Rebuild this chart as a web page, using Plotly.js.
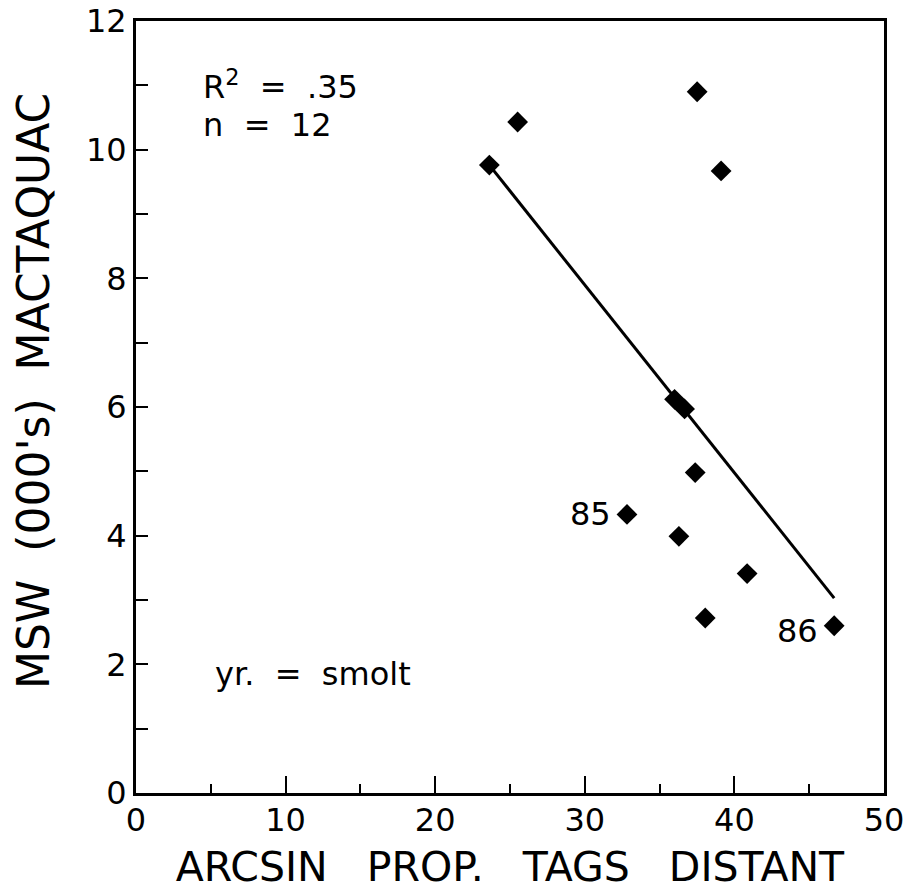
<!DOCTYPE html>
<html>
<head>
<meta charset="utf-8">
<script src="https://cdn.plot.ly/plotly-3.0.1.min.js"></script>
<style>html,body{margin:0;padding:0;background:#fff;}#chart{width:908px;height:894px;}</style>
</head>
<body>
<div id="chart"></div>
<script>
// Data
const arcsinProp = [23.62, 25.51, 37.51, 39.11, 36.00, 36.67, 37.38, 32.82, 36.29, 40.85, 38.05, 46.67];
const mswMactaquac = [9.76, 10.43, 10.90, 9.67, 6.12, 5.97, 4.98, 4.33, 3.99, 3.41, 2.72, 2.60];
const pointLabels = ["", "", "", "", "", "", "", "85", "", "", "", "86"];
const fitX = [23.62, 46.67];
const fitY = [9.76, 3.03];
const xTickVals = [0, 10, 20, 30, 40, 50];
const yTickVals = [0, 2, 4, 6, 8, 10, 12];

const S = "\u00a0\u00a0";
const S3 = "\u00a0\u00a0\u00a0";
const FONT = "DejaVu Sans";

const traces = [
  {
    x: fitX, y: fitY, type: "scatter", mode: "lines",
    line: {color: "#000", width: 3}, hoverinfo: "skip", showlegend: false
  },
  {
    x: arcsinProp, y: mswMactaquac, type: "scatter", mode: "markers",
    marker: {symbol: "diamond", size: 16, color: "#000"}, showlegend: false
  }
];

const annotations = [];
pointLabels.forEach((lab, i) => {
  if (lab) {
    annotations.push({
      x: arcsinProp[i], y: mswMactaquac[i], xref: "x", yref: "y",
      text: lab, showarrow: false, xanchor: "right", yanchor: "middle",
      xshift: -14, yshift: (i === 11 ? -5 : 0),
      font: {family: FONT, size: 32, color: "#000"}
    });
  }
});
annotations.push(
  {x: 4.33, y: 11.0, xref: "x", yref: "y", text: "R<sup>2</sup>" + S + "=" + S + ".35",
   showarrow: false, xanchor: "left", yanchor: "middle", font: {family: FONT, size: 32, color: "#000"}},
  {x: 4.33, y: 10.38, xref: "x", yref: "y", text: "n" + S + "=" + S + "12",
   showarrow: false, xanchor: "left", yanchor: "middle", font: {family: FONT, size: 32, color: "#000"}},
  {x: 5.13, y: 1.85, xref: "x", yref: "y", text: "yr." + S + "=" + S + "smolt",
   showarrow: false, xanchor: "left", yanchor: "middle", font: {family: FONT, size: 32, color: "#000"}},
  {x: -0.137, y: 0.52, xref: "paper", yref: "paper", text: "MSW" + S + "(000's)" + S + "MACTAQUAC",
   textangle: -90, showarrow: false, xanchor: "center", yanchor: "middle",
   font: {family: FONT, size: 44, color: "#000"}}
);

const layout = {
  width: 908, height: 894,
  margin: {l: 136, r: 24, t: 21, b: 101},
  paper_bgcolor: "#fff", plot_bgcolor: "#fff",
  font: {family: FONT, color: "#000"},
  showlegend: false,
  xaxis: {
    range: [0, 50], tickvals: xTickVals, ticktext: xTickVals.map(String),
    ticks: "inside", ticklen: 17, tickwidth: 2, tickcolor: "#000",
    minor: {dtick: 5, tick0: 0, ticks: "inside", ticklen: 9, tickwidth: 2, tickcolor: "#000", showgrid: false},
    showline: true, linewidth: 3, linecolor: "#000", mirror: true,
    showgrid: false, zeroline: false, ticklabelstandoff: -3,
    tickfont: {family: FONT, size: 32, color: "#000"},
    title: {text: "ARCSIN" + S3 + "PROP." + S3 + "TAGS" + S3 + "DISTANT", font: {family: FONT, size: 41, color: "#000"}, standoff: 14}
  },
  yaxis: {
    range: [0, 12], tickvals: yTickVals, ticktext: yTickVals.map(String),
    ticks: "inside", ticklen: 12, tickwidth: 2, tickcolor: "#000",
    minor: {dtick: 1, tick0: 0, ticks: "inside", ticklen: 12, tickwidth: 2, tickcolor: "#000", showgrid: false},
    showline: true, linewidth: 3, linecolor: "#000", mirror: true,
    showgrid: false, zeroline: false,
    tickfont: {family: FONT, size: 32, color: "#000"}
  },
  annotations: annotations
};

Plotly.newPlot("chart", traces, layout, {displayModeBar: false, staticPlot: true});
</script>
</body>
</html>
